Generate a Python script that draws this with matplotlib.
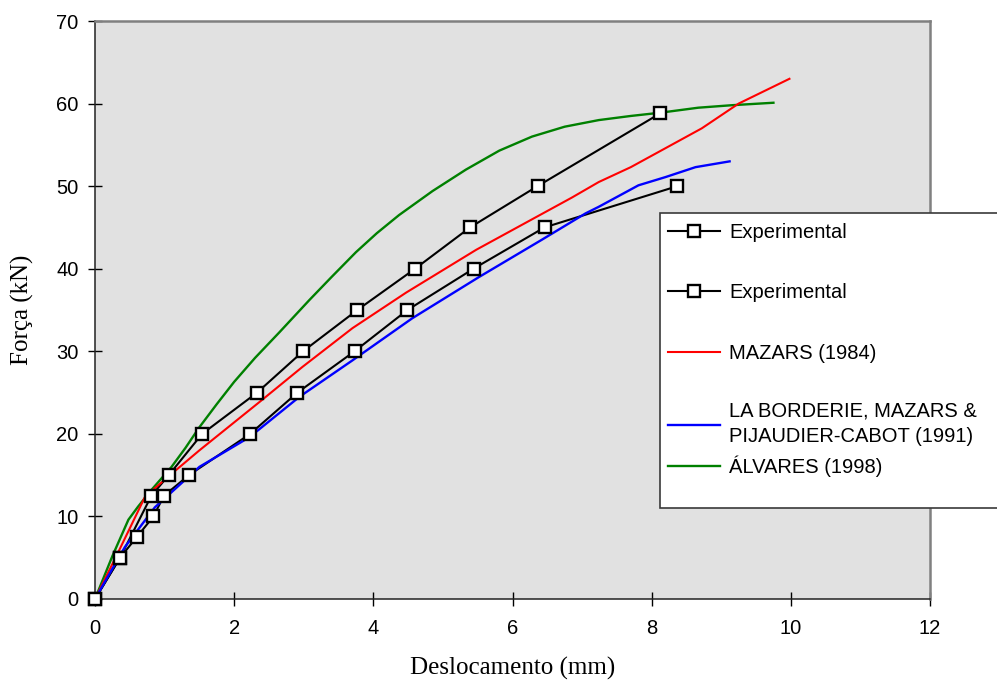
import matplotlib
matplotlib.use("Agg")
import matplotlib.pyplot as plt
from matplotlib.patches import Rectangle

# Experimental load-displacement curves (markers at every reading)
exp_a_x = [0, 0.36, 0.81, 1.06, 1.54, 2.33, 2.99, 3.77, 4.60, 5.39, 6.36, 8.12]
exp_a_y = [0, 5, 12.5, 15, 20, 25, 30, 35, 40, 45, 50, 58.8]
exp_b_x = [0, 0.36, 0.60, 0.84, 0.99, 1.35, 2.23, 2.91, 3.73, 4.49, 5.44, 6.46, 8.37]
exp_b_y = [0, 5, 7.5, 10, 12.5, 15, 20, 25, 30, 35, 40, 45, 50]

# Numerical models
mazars_x = [0, 0.33, 0.72, 1.05, 1.50, 2.37, 2.98, 3.70, 4.47, 5.48, 6.85, 7.24, 7.70,
            8.72, 9.25, 9.98]
mazars_y = [0, 5.6, 12.4, 14.8, 18.0, 23.9, 28.1, 32.8, 37.1, 42.3, 48.6, 50.5, 52.3,
            57.0, 60.0, 63.0]
laborderie_x = [0, 0.43, 0.86, 1.50, 2.22, 2.94, 3.70, 4.56, 5.52, 6.42, 7.05, 7.24,
                7.81, 8.20, 8.63, 9.12]
laborderie_y = [0, 6.3, 11.1, 16.0, 19.6, 24.5, 28.9, 34.0, 39.0, 43.5, 46.7, 47.5,
                50.1, 51.1, 52.3, 53.0]
alvares_x = [0, 0.25, 0.48, 0.62, 0.81, 1.10, 1.30, 1.50, 1.75, 2.00, 2.30, 2.65, 3.08,
             3.40, 3.75, 4.05, 4.37, 4.85, 5.33, 5.81, 6.28, 6.75, 7.24, 7.70, 8.13,
             8.67, 9.15, 9.75]
alvares_y = [0, 5.2, 9.6, 11.2, 13.2, 16.0, 18.3, 20.8, 23.6, 26.3, 29.2, 32.3, 36.2,
             39.0, 42.0, 44.3, 46.5, 49.4, 52.0, 54.3, 56.0, 57.2, 58.0, 58.5, 58.9,
             59.5, 59.8, 60.1]

labels = ["Experimental", "Experimental", "MAZARS (1984)",
          "LA BORDERIE, MAZARS &\nPIJAUDIER-CABOT (1991)", "ÁLVARES (1998)"]

x_ticks = [0, 2, 4, 6, 8, 10, 12]
y_ticks = [0, 10, 20, 30, 40, 50, 60, 70]

SANS = ["Liberation Sans", "DejaVu Sans"]
SERIF = ["Liberation Serif", "DejaVu Serif"]

W, H = 997, 690
fig = plt.figure(figsize=(W / 100, H / 100), dpi=100)
ax = fig.add_axes([95 / W, 1 - 599 / H, (930 - 95) / W, (599 - 21) / H])
ax.set_facecolor("#e1e1e1")

mk = dict(marker="s", markersize=9, markerfacecolor="white",
          markeredgecolor="black", markeredgewidth=1.7, linestyle="none",
          zorder=4, clip_on=False)

la, = ax.plot(exp_a_x, exp_a_y, color="black", lw=1.5, zorder=2)
lb, = ax.plot(exp_b_x, exp_b_y, color="black", lw=1.5, zorder=2)
lr, = ax.plot(mazars_x, mazars_y, color="#ff0000", lw=1.5, zorder=2.2)
lbl, = ax.plot(laborderie_x, laborderie_y, color="#0000ff", lw=1.7, zorder=2.3)
lg, = ax.plot(alvares_x, alvares_y, color="#008000", lw=1.7, zorder=2.1)
ma, = ax.plot(exp_a_x, exp_a_y, **mk)
mb, = ax.plot(exp_b_x, exp_b_y, **mk)

ax.set_xlim(0, 12)
ax.set_ylim(0, 70)
ax.set_xticks(x_ticks)
ax.set_yticks(y_ticks)
ax.tick_params(axis="both", direction="inout", length=9.5, width=1.0,
               color="black", labelsize=14.5)
ax.tick_params(axis="y", pad=7)
ax.tick_params(axis="x", pad=10)
for t in ax.get_xticklabels() + ax.get_yticklabels():
    t.set_family(SANS)

for side in ("top", "right"):
    ax.spines[side].set_color("#808080")
    ax.spines[side].set_linewidth(1.8)
for side in ("left", "bottom"):
    ax.spines[side].set_color("#222222")
    ax.spines[side].set_linewidth(1.1)

ax.set_xlabel("Deslocamento (mm)", family=SERIF, fontsize=18, va="center")
ax.xaxis.set_label_coords(0.5, -(668 - 599) / 578)
ax.set_ylabel("Força (kN)", family=SERIF, fontsize=18, va="center")
ax.yaxis.set_label_coords((22.5 - 95) / 835, 0.5)

# Legend box, partly running off the right edge of the figure
fig.patches.append(Rectangle((660 / W, 1 - 508 / H), 400 / W, (508 - 213) / H,
                             transform=fig.transFigure, facecolor="white",
                             edgecolor="#3a3a3a", lw=1.2, zorder=5))

leg_kw = dict(frameon=False, borderpad=0, borderaxespad=0, handlelength=2.6,
              handletextpad=0.45, prop={"family": SANS, "size": 14.5}, numpoints=1)
leg1 = fig.legend([(la, ma), (lb, mb), lr], labels[:3], loc="upper left",
                  bbox_to_anchor=(668 / W, 1 - 223 / H), labelspacing=2.05, **leg_kw)
leg1.set_zorder(6)
leg2 = fig.legend([lbl, lg], labels[3:], loc="lower left",
                  bbox_to_anchor=(668 / W, 1 - 477 / H), labelspacing=0.45, **leg_kw)
leg2.get_texts()[0].set_linespacing(1.45)
leg2.set_zorder(6)

fig.savefig("out.png", dpi=100)
